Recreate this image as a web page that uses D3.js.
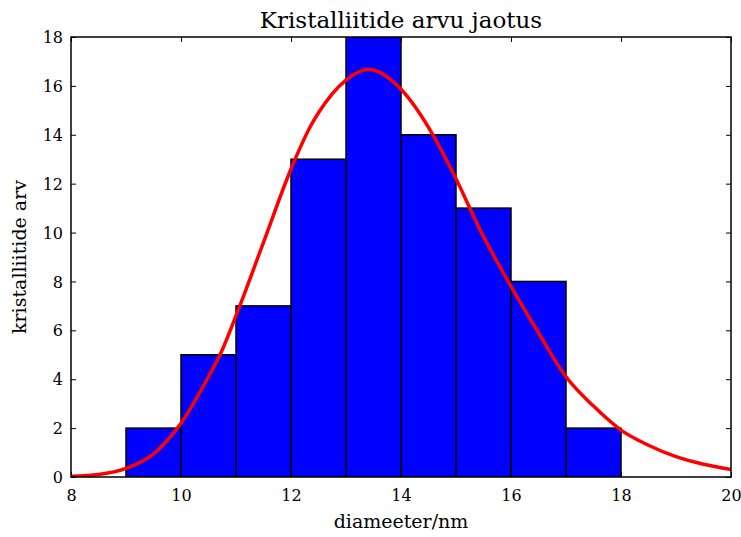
<!DOCTYPE html>
<html>
<head>
<meta charset="utf-8">
<script src="https://cdn.jsdelivr.net/npm/d3@7"></script>
<style>
  body { margin: 0; background: #fff; }
</style>
</head>
<body>
<svg id="chart"></svg>
<script>
// histogram bins (left edge, right edge) and counts
var binStart = [9, 10, 11, 12, 13, 14, 15, 16, 17];
var binEnd = [10, 11, 12, 13, 14, 15, 16, 17, 18];
var counts = [2, 5, 7, 13, 18, 14, 11, 8, 2];

// fitted curve
var fitX = [8, 8.5, 9, 9.5, 10, 10.5, 10.71, 11, 11.5, 12, 12.35, 12.5, 13, 13.41, 13.5, 14, 14.58, 15, 15.44, 16, 16.5, 17, 17.5, 18, 18.5, 19, 19.5, 20];
var fitY = [0.03, 0.1, 0.35, 0.95, 2.2, 4.1, 5, 6.6, 9.6, 12.6, 14.33, 14.9, 16.24, 16.68, 16.65, 15.86, 14, 12.2, 10.1, 7.8, 5.9, 4.1, 2.9, 1.92, 1.3, 0.83, 0.52, 0.31];

var xTicks = [8, 10, 12, 14, 16, 18, 20];
var yTicks = [0, 2, 4, 6, 8, 10, 12, 14, 16, 18];

var title = "Kristalliitide arvu jaotus";
var xLabel = "diameeter/nm";
var yLabel = "kristalliitide arv";

var font = "'DejaVu Serif', 'Liberation Serif', serif";

var svgWidth = 741;
var svgHeight = 537;
var margin = {top: 37, right: 10, bottom: 60, left: 71};
var w = svgWidth - margin.left - margin.right;
var h = svgHeight - margin.top - margin.bottom;

var svg = d3.select('#chart')
    .attr("width", svgWidth)
    .attr("height", svgHeight);

var g = svg.append("g")
    .attr("transform", "translate(" + margin.left + "," + margin.top + ")");

var x = d3.scaleLinear().domain([8, 20]).range([0, w]);
var y = d3.scaleLinear().domain([0, 18]).range([h, 0]);

g.append("defs").append("clipPath").attr("id", "clip")
    .append("rect").attr("width", w).attr("height", h);

var plot = g.append("g").attr("clip-path", "url(#clip)");

plot.selectAll("rect.bar")
    .data(counts)
    .enter()
    .append("rect")
    .attr("class", "bar")
    .attr("x", function(d, i) { return x(binStart[i]); })
    .attr("y", function(d) { return y(d); })
    .attr("width", function(d, i) { return x(binEnd[i]) - x(binStart[i]); })
    .attr("height", function(d) { return h - y(d); })
    .attr("fill", "#0000ff")
    .attr("stroke", "#000")
    .attr("stroke-width", 1.5);

var line = d3.line()
    .x(function(d, i) { return x(fitX[i]); })
    .y(function(d) { return y(d); })
    .curve(d3.curveMonotoneX);

plot.append("path")
    .datum(fitY)
    .attr("d", line)
    .attr("fill", "none")
    .attr("stroke", "#ff0000")
    .attr("stroke-width", 3.5);

// axes, ticks inside on all four sides
var tickLen = 5;
var axBottom = g.append("g").attr("transform", "translate(0," + h + ")")
    .call(d3.axisBottom(x).tickValues(xTicks).tickSizeInner(-tickLen).tickSizeOuter(0).tickPadding(10));
var axTop = g.append("g")
    .call(d3.axisTop(x).tickValues(xTicks).tickSizeInner(-tickLen).tickSizeOuter(0).tickFormat(""));
var axLeft = g.append("g")
    .call(d3.axisLeft(y).tickValues(yTicks).tickSizeInner(-tickLen).tickSizeOuter(0).tickPadding(10));
var axRight = g.append("g").attr("transform", "translate(" + w + ",0)")
    .call(d3.axisRight(y).tickValues(yTicks).tickSizeInner(-tickLen).tickSizeOuter(0).tickFormat(""));

[axBottom, axTop, axLeft, axRight].forEach(function(a) {
    a.select(".domain").remove();
    a.attr("font-family", null).attr("font-size", null);
    a.selectAll("line").attr("stroke", "#000").attr("stroke-width", 1);
    a.selectAll("text")
        .style("font-family", font)
        .style("font-size", "16px")
        .attr("fill", "#000");
});
axBottom.selectAll("text").attr("dy", "0.9em");
axLeft.selectAll("text").attr("dy", "0.35em").attr("x", -8);

g.append("rect")
    .attr("width", w)
    .attr("height", h)
    .attr("fill", "none")
    .attr("stroke", "#000")
    .attr("stroke-width", 1.5);

svg.append("text")
    .attr("x", margin.left + w / 2)
    .attr("y", 28)
    .attr("text-anchor", "middle")
    .style("font-family", font)
    .style("font-size", "23px")
    .text(title);

svg.append("text")
    .attr("x", margin.left + w / 2)
    .attr("y", 528)
    .attr("text-anchor", "middle")
    .style("font-family", font)
    .style("font-size", "19px")
    .text(xLabel);

svg.append("text")
    .attr("transform", "translate(26," + (margin.top + h / 2) + ") rotate(-90)")
    .attr("text-anchor", "middle")
    .style("font-family", font)
    .style("font-size", "19px")
    .text(yLabel);
</script>
</body>
</html>
